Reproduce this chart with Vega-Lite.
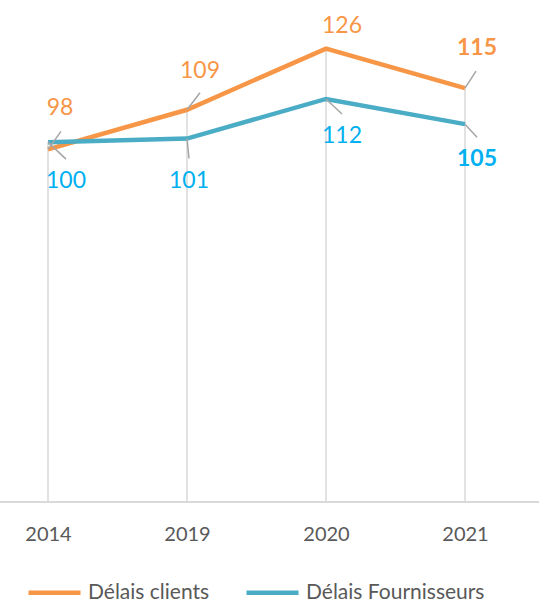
{
  "$schema": "https://vega.github.io/schema/vega-lite/v6.json",
  "width": 539,
  "height": 502,
  "autosize": "none",
  "padding": {"left": 0, "top": 0, "right": 0, "bottom": 104},
  "background": "white",
  "config": {
    "view": {"stroke": null},
    "font": "Lato",
    "text": {"font": "Lato"}
  },
  "data": {
    "values": [
      {"year": "2014", "series": "Délais clients", "value": 98},
      {"year": "2019", "series": "Délais clients", "value": 109},
      {"year": "2020", "series": "Délais clients", "value": 126},
      {"year": "2021", "series": "Délais clients", "value": 115},
      {"year": "2014", "series": "Délais Fournisseurs", "value": 100},
      {"year": "2019", "series": "Délais Fournisseurs", "value": 101},
      {"year": "2020", "series": "Délais Fournisseurs", "value": 112},
      {"year": "2021", "series": "Délais Fournisseurs", "value": 105}
    ]
  },
  "encoding": {
    "x": {
      "field": "year", "type": "ordinal",
      "scale": {"type": "point", "range": [48, 465], "padding": 0},
      "axis": {
        "title": null, "labelAngle": 0, "ticks": false, "grid": false,
        "domain": false,
        "labelFont": "Lato", "labelFontSize": 20, "labelColor": "#595959",
        "labelPadding": 22
      }
    },
    "y": {
      "field": "value", "type": "quantitative",
      "scale": {"domain": [0, 139.5], "nice": false},
      "axis": null
    }
  },
  "layer": [
    {
      "mark": {"type": "rule", "color": "#d9d9d9", "strokeWidth": 1.5},
      "encoding": {
        "y": {"aggregate": "max", "field": "value", "type": "quantitative"},
        "y2": {"datum": 0}
      }
    },
    {
      "mark": {"type": "rule", "color": "#d9d9d9", "strokeWidth": 1.5},
      "encoding": {"x": null, "y": {"datum": 0}}
    },
    {
      "mark": {"type": "line", "strokeWidth": 4.5},
      "encoding": {
        "color": {
          "field": "series", "type": "nominal",
          "scale": {"domain": ["Délais clients", "Délais Fournisseurs"], "range": ["#F79646", "#4BACC6"]},
          "legend": {
            "title": null, "orient": "none", "legendX": 26, "legendY": 564,
            "direction": "horizontal", "symbolType": "stroke", "symbolSize": 2704,
            "symbolStrokeWidth": 4.5, "labelFont": "Lato", "labelFontSize": 21,
            "labelColor": "#595959", "labelOffset": 5, "columnPadding": 27,
            "labelLimit": 400
          }
        }
      }
    },
    {"transform": [{"filter": "datum.series == 'Délais clients' && datum.year == '2014'"}],
     "mark": {"type": "rule", "color": "#a6a6a6", "strokeWidth": 1.5, "y2Offset": -18, "x2Offset": 13},
     "encoding": {"x2": {"field": "year"}, "y2": {"field": "value"}}},
    {"transform": [{"filter": "datum.series == 'Délais clients' && datum.year == '2019'"}],
     "mark": {"type": "rule", "color": "#a6a6a6", "strokeWidth": 1.5, "y2Offset": -17, "x2Offset": 13},
     "encoding": {"x2": {"field": "year"}, "y2": {"field": "value"}}},
    {"transform": [{"filter": "datum.series == 'Délais clients' && datum.year == '2021'"}],
     "mark": {"type": "rule", "color": "#a6a6a6", "strokeWidth": 1.5, "y2Offset": -17, "x2Offset": 11},
     "encoding": {"x2": {"field": "year"}, "y2": {"field": "value"}}},
    {"transform": [{"filter": "datum.series == 'Délais Fournisseurs' && datum.year == '2014'"}],
     "mark": {"type": "rule", "color": "#a6a6a6", "strokeWidth": 1.5, "y2Offset": 17, "x2Offset": 18},
     "encoding": {"x2": {"field": "year"}, "y2": {"field": "value"}}},
    {"transform": [{"filter": "datum.series == 'Délais Fournisseurs' && datum.year == '2019'"}],
     "mark": {"type": "rule", "color": "#a6a6a6", "strokeWidth": 1.5, "y2Offset": 20, "x2Offset": 2},
     "encoding": {"x2": {"field": "year"}, "y2": {"field": "value"}}},
    {"transform": [{"filter": "datum.series == 'Délais Fournisseurs' && datum.year == '2020'"}],
     "mark": {"type": "rule", "color": "#a6a6a6", "strokeWidth": 1.5, "y2Offset": 15, "x2Offset": 16},
     "encoding": {"x2": {"field": "year"}, "y2": {"field": "value"}}},
    {"transform": [{"filter": "datum.series == 'Délais Fournisseurs' && datum.year == '2021'"}],
     "mark": {"type": "rule", "color": "#a6a6a6", "strokeWidth": 1.5, "y2Offset": 13, "x2Offset": 12},
     "encoding": {"x2": {"field": "year"}, "y2": {"field": "value"}}},
    {"transform": [{"filter": "datum.series == 'Délais clients' && datum.year == '2014'"}],
     "mark": {"type": "text", "font": "Lato", "fontSize": 23, "color": "#F79646", "baseline": "middle", "dx": 12, "dy": -41},
     "encoding": {"text": {"field": "value"}}},
    {"transform": [{"filter": "datum.series == 'Délais clients' && datum.year == '2019'"}],
     "mark": {"type": "text", "font": "Lato", "fontSize": 23, "color": "#F79646", "baseline": "middle", "dx": 13, "dy": -39},
     "encoding": {"text": {"field": "value"}}},
    {"transform": [{"filter": "datum.series == 'Délais clients' && datum.year == '2020'"}],
     "mark": {"type": "text", "font": "Lato", "fontSize": 23, "color": "#F79646", "baseline": "middle", "dx": 16, "dy": -23},
     "encoding": {"text": {"field": "value"}}},
    {"transform": [{"filter": "datum.series == 'Délais clients' && datum.year == '2021'"}],
     "mark": {"type": "text", "font": "Lato", "fontSize": 23, "fontWeight": "bold", "color": "#F79646", "baseline": "middle", "dx": 12, "dy": -40},
     "encoding": {"text": {"field": "value"}}},
    {"transform": [{"filter": "datum.series == 'Délais Fournisseurs' && datum.year == '2014'"}],
     "mark": {"type": "text", "font": "Lato", "fontSize": 23, "color": "#00B0F0", "baseline": "middle", "dx": 18, "dy": 39},
     "encoding": {"text": {"field": "value"}}},
    {"transform": [{"filter": "datum.series == 'Délais Fournisseurs' && datum.year == '2019'"}],
     "mark": {"type": "text", "font": "Lato", "fontSize": 23, "color": "#00B0F0", "baseline": "middle", "dx": 2, "dy": 42},
     "encoding": {"text": {"field": "value"}}},
    {"transform": [{"filter": "datum.series == 'Délais Fournisseurs' && datum.year == '2020'"}],
     "mark": {"type": "text", "font": "Lato", "fontSize": 23, "color": "#00B0F0", "baseline": "middle", "dx": 16, "dy": 37},
     "encoding": {"text": {"field": "value"}}},
    {"transform": [{"filter": "datum.series == 'Délais Fournisseurs' && datum.year == '2021'"}],
     "mark": {"type": "text", "font": "Lato", "fontSize": 23, "fontWeight": "bold", "color": "#00B0F0", "baseline": "middle", "dx": 12, "dy": 35},
     "encoding": {"text": {"field": "value"}}}
  ]
}
